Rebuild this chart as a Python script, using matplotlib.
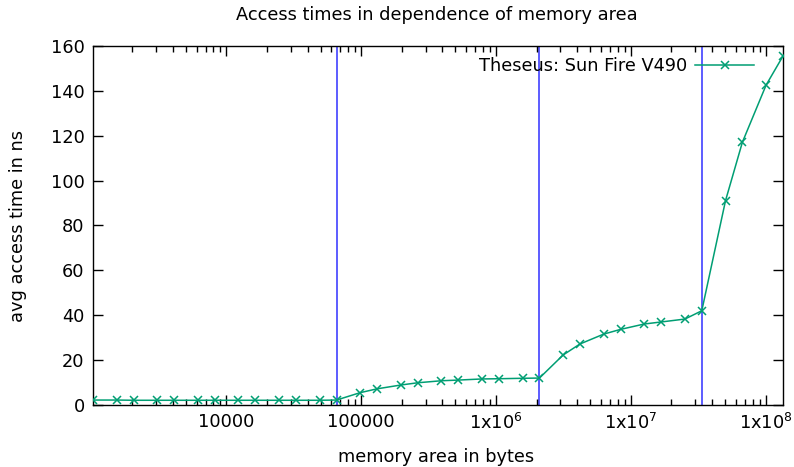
import matplotlib
matplotlib.use("Agg")
import matplotlib.pyplot as plt
from matplotlib.ticker import FixedLocator, LogLocator, NullFormatter, MultipleLocator

# memory area in bytes (2^k and 1.5*2^k) and avg access time in ns
mem_bytes = [1024, 1536, 2048, 3072, 4096, 6144, 8192, 12288, 16384, 24576,
             32768, 49152, 65536, 98304, 131072, 196608, 262144, 393216,
             524288, 786432, 1048576, 1572864, 2097152, 3145728, 4194304,
             6291456, 8388608, 12582912, 16777216, 25165824, 33554432,
             50331648, 67108864, 100663296, 134217728]
access_ns = [2.2, 2.2, 2.1, 2.1, 2.1, 2.1, 2.1, 2.1, 2.1, 2.1,
             2.1, 2.1, 2.2, 5.5, 7.2, 8.9, 9.9, 10.8,
             11.1, 11.6, 11.7, 11.9, 12.0, 22.3, 27.2,
             31.6, 33.7, 36.1, 37.0, 38.3, 42.0,
             91.1, 117.1, 142.6, 155.5]
cache_limits = [65536, 2097152, 33554432]   # L1, L2, L3 sizes
series_label = "Theseus: Sun Fire V490"

xtick_vals = [1e4, 1e5, 1e6, 1e7, 1e8]
xtick_labels = ["10000", "100000", r"1x10$^{6}$", r"1x10$^{7}$", r"1x10$^{8}$"]

FS = 12.8
plt.rcParams['font.family'] = ['DejaVu Sans']
plt.rcParams['font.size'] = FS
plt.rcParams['mathtext.fontset'] = 'dejavusans'

fig = plt.figure(figsize=(7.94, 4.67), dpi=100)
ax = fig.add_axes([0.1171, 0.1328, 0.869, 0.7687])

for lim in cache_limits:
    ax.axvline(lim, color='#3030ff', lw=1.1, zorder=1)

ax.plot(mem_bytes, access_ns, color='#009e73', lw=1.1, marker='x',
        markersize=6, markeredgewidth=1.1, label=series_label, zorder=3)

ax.set_xscale('log')
ax.set_xlim(mem_bytes[0], mem_bytes[-1])
ax.set_ylim(0, 160)
ax.xaxis.set_major_locator(FixedLocator(xtick_vals))
ax.set_xticklabels(xtick_labels)
ax.xaxis.set_minor_locator(LogLocator(base=10, subs=range(2, 10), numticks=20))
ax.xaxis.set_minor_formatter(NullFormatter())
ax.yaxis.set_major_locator(MultipleLocator(20))

ax.tick_params(which='both', direction='in', top=True, right=True, width=1,
               labelsize=FS)
ax.tick_params(which='major', length=7, pad=6)
ax.tick_params(which='minor', length=4)
for s in ax.spines.values():
    s.set_linewidth(1)

fig.text(0.5 + 0.05, 1 - 15 / 467, "Access times in dependence of memory area",
         ha='center', va='center', fontsize=FS)
fig.text(0.549, 1 - 457 / 467, "memory area in bytes", ha='center', va='center',
         fontsize=FS)
fig.text(18 / 794, 0.517, "avg access time in ns", ha='center', va='center',
         rotation=90, fontsize=FS)

ax.legend(loc='upper right', frameon=False, markerfirst=False,
          handlelength=3.3, handletextpad=0.45, borderaxespad=0.0,
          bbox_to_anchor=(757 / 794 + 0.005, 1 - 50 / 467),
          bbox_transform=fig.transFigure, fontsize=FS)

fig.savefig("out.png", dpi=100)
